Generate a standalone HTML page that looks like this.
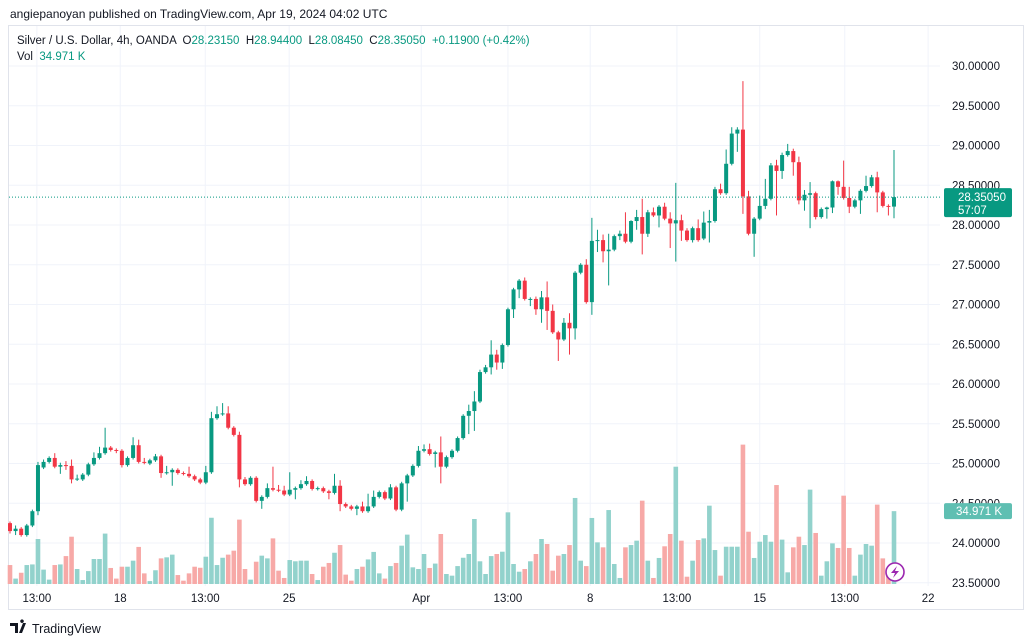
<!DOCTYPE html>
<html><head><meta charset="utf-8"><style>
body{margin:0;background:#fff;font-family:"Liberation Sans",sans-serif;}
#wrap{position:relative;width:1024px;height:643px;overflow:hidden;background:#fff;}
svg text{font-family:"Liberation Sans",sans-serif;}
</style></head><body>
<div id="wrap">
<svg id="chart" width="1024" height="643"></svg>
</div>
<script>
const opens=[24.25,24.15,24.18,24.10,24.22,24.40,24.95,25.02,25.07,24.96,24.98,24.97,24.80,24.80,24.86,24.99,25.07,25.13,25.20,25.17,25.16,24.98,25.07,25.23,25.02,25.00,25.04,25.09,24.88,24.89,24.92,24.88,24.87,24.84,24.80,24.76,24.89,25.57,25.62,25.63,25.45,25.36,24.80,24.74,24.82,24.53,24.58,24.69,24.67,24.66,24.61,24.67,24.69,24.74,24.78,24.68,24.69,24.65,24.63,24.72,24.49,24.46,24.43,24.46,24.40,24.46,24.58,24.64,24.56,24.70,24.42,24.75,24.85,24.97,25.16,25.18,25.12,25.14,24.96,25.08,25.16,25.32,25.60,25.66,25.78,26.15,26.21,26.37,26.27,26.49,26.94,27.19,27.30,27.07,27.07,26.94,27.09,26.92,26.65,26.56,26.77,26.70,27.40,27.50,27.03,27.80,27.81,27.67,27.69,27.86,27.89,27.79,28.05,28.10,27.89,28.16,28.12,28.23,28.08,28.02,28.06,27.93,27.81,27.96,27.83,28.03,28.05,28.45,28.40,28.77,29.15,29.20,28.36,27.89,28.08,28.24,28.33,28.75,28.68,28.88,28.93,28.79,28.31,28.38,28.40,28.10,28.20,28.22,28.55,28.48,28.34,28.23,28.31,28.43,28.49,28.60,28.41,28.24,28.2315];
const highs=[24.27,24.22,24.20,24.24,24.42,25.02,25.05,25.09,25.13,25.01,25.03,25.05,24.86,24.88,25.01,25.14,25.21,25.45,25.22,25.19,25.18,25.09,25.33,25.30,25.07,25.06,25.12,25.11,24.97,24.94,24.94,24.90,24.96,24.86,24.82,24.97,25.65,25.72,25.76,25.72,25.47,25.40,24.83,24.84,24.84,24.60,24.75,24.96,24.73,24.72,24.89,24.71,24.79,24.84,24.80,24.71,24.71,24.67,24.87,24.79,24.51,24.48,24.48,24.52,24.62,24.66,24.66,24.66,24.74,24.72,24.77,24.87,24.99,25.22,25.24,25.25,25.16,25.34,25.10,25.18,25.34,25.62,25.74,25.91,26.18,26.24,26.55,26.43,26.51,26.96,27.21,27.32,27.34,27.09,27.10,27.17,27.29,27.00,26.67,26.83,26.89,27.42,27.52,27.57,28.09,27.94,27.88,27.89,27.88,27.93,28.16,28.06,28.19,28.33,28.19,28.22,28.25,28.28,28.16,28.53,28.13,27.96,27.98,28.07,28.17,28.19,28.48,28.52,28.95,29.23,29.23,29.81,28.43,28.10,28.37,28.58,28.78,28.82,28.91,29.02,28.96,28.86,28.44,28.54,28.42,28.22,28.23,28.56,28.56,28.81,28.48,28.33,28.45,28.62,28.63,28.67,28.43,28.26,28.944];
const lows=[24.12,24.10,24.08,24.08,24.20,24.35,24.93,25.00,24.94,24.87,24.92,24.75,24.78,24.78,24.84,24.97,25.05,25.11,25.15,25.13,24.95,24.96,25.05,25.00,24.99,24.98,25.02,24.82,24.86,24.72,24.86,24.85,24.82,24.78,24.74,24.74,24.87,25.55,25.60,25.43,25.34,24.70,24.72,24.72,24.51,24.43,24.56,24.65,24.64,24.59,24.59,24.55,24.67,24.72,24.66,24.66,24.63,24.55,24.61,24.40,24.44,24.41,24.35,24.38,24.38,24.44,24.56,24.54,24.54,24.40,24.40,24.52,24.83,24.95,25.14,25.10,24.95,24.75,24.94,25.06,25.14,25.30,25.37,25.41,25.76,26.13,26.12,26.18,26.19,26.47,26.83,27.08,27.05,26.98,26.87,26.77,26.68,26.63,26.29,26.54,26.37,26.56,27.38,27.01,26.87,27.66,27.53,27.24,27.67,27.81,27.77,27.77,27.94,27.63,27.85,28.10,27.97,28.06,27.71,27.54,27.80,27.79,27.78,27.79,27.81,27.78,28.03,28.38,28.38,28.75,28.92,28.14,27.87,27.60,28.06,28.20,28.31,28.12,28.58,28.86,28.62,28.26,28.18,27.96,28.07,28.08,28.08,28.15,28.38,28.32,28.15,28.21,28.14,28.41,28.47,28.16,28.22,28.12,28.0845];
const closes=[24.15,24.18,24.10,24.22,24.40,24.98,25.02,25.07,24.96,24.98,24.97,24.80,24.81,24.86,24.99,25.07,25.13,25.20,25.17,25.16,24.98,25.07,25.23,25.02,25.01,25.04,25.09,24.88,24.89,24.92,24.88,24.87,24.84,24.80,24.76,24.89,25.57,25.62,25.63,25.45,25.36,24.80,24.74,24.82,24.53,24.58,24.69,24.67,24.66,24.61,24.67,24.69,24.74,24.78,24.68,24.69,24.65,24.63,24.72,24.49,24.46,24.43,24.46,24.40,24.46,24.58,24.64,24.56,24.70,24.42,24.75,24.85,24.97,25.16,25.18,25.12,25.14,24.96,25.08,25.16,25.32,25.60,25.66,25.78,26.15,26.21,26.37,26.27,26.49,26.94,27.19,27.30,27.07,27.07,26.94,27.09,26.92,26.65,26.56,26.77,26.70,27.40,27.50,27.03,27.80,27.81,27.67,27.69,27.86,27.89,27.79,28.05,28.10,27.89,28.16,28.12,28.23,28.08,28.02,28.06,27.93,27.81,27.96,27.81,28.03,28.05,28.45,28.40,28.77,29.15,29.20,28.36,27.89,28.08,28.24,28.33,28.75,28.68,28.88,28.93,28.79,28.31,28.38,28.40,28.10,28.20,28.22,28.55,28.48,28.34,28.23,28.31,28.43,28.49,28.60,28.41,28.24,28.23,28.3505];
const volumes=[9.1,2.6,5.4,9.1,9.4,21.6,6.9,2.1,9.1,9.4,13.4,22.7,7.2,1.9,6.2,12.0,12.0,24.2,7.7,2.6,8.3,8.3,11.2,17.8,5.1,1.4,6.6,12.3,12.8,14.1,4.3,1.6,5.1,8.3,7.8,13.1,31.8,9.1,12.6,14.1,16.0,30.9,7.2,2.1,10.7,13.6,12.3,21.9,6.4,2.9,11.5,10.9,11.2,11.2,4.8,1.9,8.3,10.1,15.0,18.7,4.5,1.6,7.2,8.3,11.8,15.4,5.1,2.6,8.6,10.1,18.4,23.7,8.0,7.2,14.4,7.7,9.8,24.0,4.8,4.0,8.6,12.6,14.4,31.2,10.9,4.8,13.4,14.4,15.5,34.4,9.6,5.9,7.2,10.9,14.4,21.6,19.2,6.4,13.6,14.4,18.7,41.3,11.2,8.6,31.7,20.0,17.6,35.5,9.6,2.9,17.6,18.7,20.8,40.0,11.2,2.9,12.5,18.1,24.0,56.3,20.8,3.5,11.2,21.1,21.9,37.6,16.3,4.0,17.9,17.9,17.9,66.9,25.1,12.5,20.3,23.5,20.3,47.5,21.3,5.6,17.6,22.7,18.7,45.3,24.5,4.0,10.9,19.5,17.3,42.4,17.3,4.0,14.1,19.2,18.4,38.1,12.3,6.4,34.971];
const priceTicks=[30.0,29.5,29.0,28.5,28.0,27.5,27.0,26.5,26.0,25.5,25.0,24.5,24.0,23.5];
const timeTickLabels=["13:00","18","13:00","25","Apr","13:00","8","13:00","15","13:00","22"];
const timeTickIdx=[4.8,19.7,34.9,49.9,73.5,89,103.7,119.2,134,149.2,164.1];
const lastPrice=28.3505, lastVol=34.971;

const NS="http://www.w3.org/2000/svg";
const svg=document.getElementById('chart');
const n=closes.length;
const xS=i=>10+i*(884/(n-1));
const yP=p=>66+(30-p)*79.5;
const yV=v=>584-v/0.48;
function mk(tag,attrs,parent){const e=document.createElementNS(NS,tag);for(const k in attrs)e.setAttribute(k,attrs[k]);(parent||svg).appendChild(e);return e;}
const GREEN="#089981",RED="#f23645";

// pane border
const pane=mk('rect',{x:8.5,y:25.5,width:1015,height:584,fill:'none',stroke:'#e0e3eb'});


// grid
priceTicks.forEach(p=>{
  const g=mk('line',{x1:9,x2:940,y1:yP(p),y2:yP(p),stroke:'#f0f3fa'});
  
  
});
timeTickIdx.forEach(t=>{
  const g=mk('line',{x1:xS(t),x2:xS(t),y1:26,y2:586,stroke:'#f0f3fa'});
  
  
});
// volumes
volumes.forEach((v,i)=>{
  const up=closes[i]>=opens[i];
  const b=mk('rect',{x:xS(i)-2.3,y:yV(v),width:4.6,height:584-yV(v),fill:up?'#92d2cc':'#f7a9a7'});
  
  
});
// candles
for(let i=0;i<n;i++){
  const up=closes[i]>=opens[i];const c=up?GREEN:RED;const x=xS(i);
  const w=mk('line',{x1:x,x2:x,y1:yP(highs[i]),y2:yP(lows[i]),stroke:c,'stroke-width':1});
  
  
  const top=yP(Math.max(opens[i],closes[i])),bot=yP(Math.min(opens[i],closes[i]));
  const r=mk('rect',{x:x-2,y:top,width:4,height:Math.max(1,bot-top),fill:c});
  
  
}
// last price line
const lp=mk('line',{x1:9,x2:940,y1:yP(lastPrice),y2:yP(lastPrice),stroke:GREEN,'stroke-dasharray':'1 2'});


// price axis labels
priceTicks.forEach(p=>{
  const t=mk('text',{x:952,y:yP(p)+4,'font-size':11.5,fill:'#131722'});
  t.textContent=p.toFixed(5);
  
  
});
const pb=mk('rect',{x:944,y:yP(lastPrice)-9,width:68,height:29,fill:GREEN,rx:2});


const pt=mk('text',{x:958,y:yP(lastPrice)+4,'font-size':11.5,fill:'#fff'});pt.textContent=lastPrice.toFixed(5);


const ct=mk('text',{x:958,y:yP(lastPrice)+17,'font-size':11.5,fill:'#fff'});ct.textContent='57:07';


const vb=mk('rect',{x:944,y:yV(lastVol)-8,width:68,height:16,fill:'#5fbfb2',rx:2});


const vt=mk('text',{x:956,y:yV(lastVol)+4,'font-size':11.5,fill:'#fff'});vt.textContent=lastVol.toFixed(3)+' K';


// time labels
timeTickIdx.forEach((t,k)=>{
  const tx=mk('text',{x:xS(t),y:602,'font-size':11.5,fill:'#131722','text-anchor':'middle'});
  tx.textContent=timeTickLabels[k];
  
  
});
// header
const h1=mk('text',{x:10,y:18,'font-size':12,fill:'#131722'});h1.textContent='angiepanoyan published on TradingView.com, Apr 19, 2024 04:02 UTC';


const h2=mk('text',{x:17,y:44,'font-size':11.5,fill:'#131722'});


[['Silver / U.S. Dollar, 4h, OANDA  O','#131722'],['28.23150',GREEN],['  H','#131722'],['28.94400',GREEN],['  L','#131722'],['28.08450',GREEN],['  C','#131722'],['28.35050',GREEN],['  +0.11900 (+0.42%)',GREEN]].forEach(([s,c])=>{const ts=mk('tspan',{fill:c},h2);ts.textContent=s;ts.setAttribute('xml:space','preserve');});
h2.setAttribute('style','white-space:pre');
const h3=mk('text',{x:17,y:60,'font-size':11.5,fill:'#131722'});h3.setAttribute('style','white-space:pre');


const s1=mk('tspan',{},h3);s1.textContent='Vol  ';const s2=mk('tspan',{fill:GREEN},h3);s2.textContent='34.971 K';
// lightning icon
const lc=mk('circle',{cx:895,cy:572,r:9,fill:'#fff',stroke:'#9c27b0','stroke-width':1.6});


const lg=mk('path',{d:'M897 566 L891 573 L895 573 L893 578 L899 571 L895 571 Z',fill:'#9c27b0'});


// footer logo
const lo=mk('path',{d:'M10 623 h8 v10 h-3 v-7 h-5 z M19 633 l4 -10 h3 l-4 10 z M22 623 a1.8 1.8 0 1 1 0.01 0',fill:'#131722'});


const lt=mk('text',{x:32,y:633,'font-size':12.5,fill:'#131722'});lt.textContent='TradingView';


</script>
</body></html>
